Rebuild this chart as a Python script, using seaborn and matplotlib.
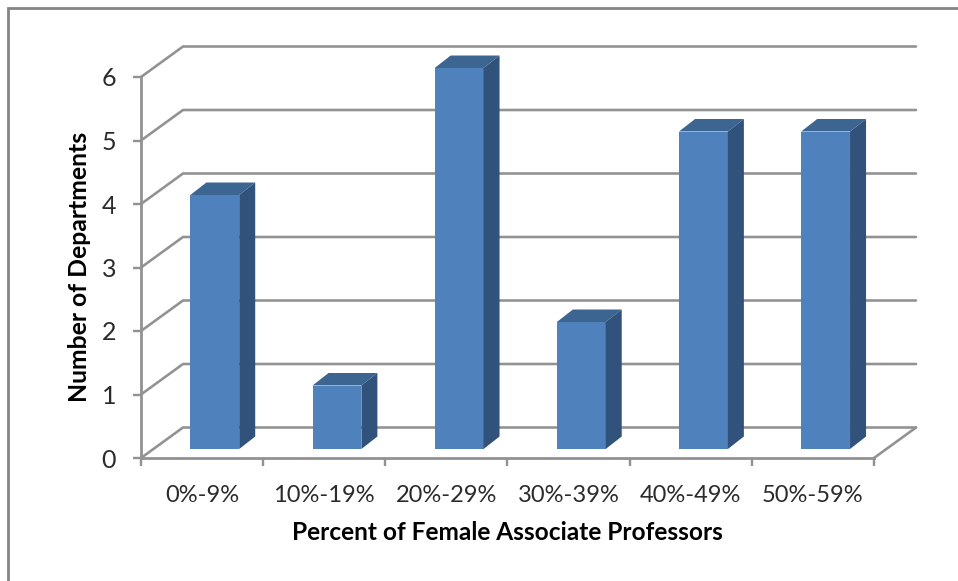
import matplotlib
matplotlib.use("Agg")
import matplotlib.pyplot as plt
import seaborn as sns
from matplotlib.lines import Line2D
from matplotlib.patches import Polygon

categories = ["0%-9%", "10%-19%", "20%-29%", "30%-39%", "40%-49%", "50%-59%"]
departments = [4, 1, 6, 2, 5, 5]
y_ticks = [0, 1, 2, 3, 4, 5, 6]
x_label = "Percent of Female Associate Professors"
y_label = "Number of Departments"

W, H, DPI = 958, 581, 100
sns.set_theme(style="white")
plt.rcParams["font.family"] = ["Lato", "DejaVu Sans"]

FRONT = "#4F81BD"
TOP = "#3D6592"
SIDE = "#30527B"
GRID = "#929292"
TEXT = "#2B2B2B"
PX = 72 / DPI

fig = plt.figure(figsize=(W / DPI, H / DPI), dpi=DPI, facecolor="white")
left, right, top, bottom = 141, 874, 77, 458
ax = fig.add_axes([left / W, 1 - bottom / H, (right - left) / W, (bottom - top) / H])

sns.barplot(x=categories, y=departments, color=FRONT, saturation=1, width=0.4, ax=ax, zorder=3)
ax.set_xlim(-0.5, 5.5)
ax.set_ylim(0, 6)
ax.patch.set_alpha(0)

unit_x = (right - left) / 6
unit_y = (bottom - top) / 6
back_x, back_y = 42 / unit_x, 30.5 / unit_y       # wall depth, data units
shift_x, shift_y = 12.7 / unit_x, 9 / unit_y      # bar placement inside the floor
deep_x, deep_y = 16 / unit_x, 12.5 / unit_y       # bar depth

for v in y_ticks:
    ax.plot([-0.5, -0.5 + back_x, 5.5 + back_x], [v, v + back_y, v + back_y],
            color=GRID, lw=2.6 * PX, clip_on=False, zorder=1, solid_joinstyle="miter")
ax.plot([5.5, 5.5 + back_x], [0, back_y], color=GRID, lw=2.6 * PX, clip_on=False, zorder=1)

for patch in ax.patches:
    patch.set_x(patch.get_x() + shift_x)
    patch.set_y(shift_y)
    patch.set_clip_on(False)
    patch.set_edgecolor("none")

for patch in list(ax.patches):
    x0, y0 = patch.get_x(), patch.get_y()
    x1, y1 = x0 + patch.get_width(), y0 + patch.get_height()
    ax.add_patch(Polygon([(x0, y1), (x1, y1), (x1 + deep_x, y1 + deep_y), (x0 + deep_x, y1 + deep_y)],
                         closed=True, fc=TOP, ec="none", clip_on=False, zorder=3))
    ax.add_patch(Polygon([(x1, y0), (x1 + deep_x, y0 + deep_y), (x1 + deep_x, y1 + deep_y), (x1, y1)],
                         closed=True, fc=SIDE, ec="none", clip_on=False, zorder=3))

sns.despine(ax=ax, top=True, right=True)
for s in ("left", "bottom"):
    ax.spines[s].set_color(GRID)
    ax.spines[s].set_linewidth(2.8 * PX)
    ax.spines[s].set_zorder(2)

ax.set_yticks(y_ticks)
ax.set_xticks([i - 0.5 for i in range(7)])
ax.set_xticklabels([])
ax.set_xticks(range(6), labels=categories, minor=True)
ax.tick_params(axis="x", which="major", length=8 * PX, width=2.4 * PX, color=GRID, bottom=True)
ax.tick_params(axis="x", which="minor", length=0, pad=20 * PX + 5, labelsize=17, labelcolor=TEXT, bottom=False)
ax.tick_params(axis="y", length=8 * PX, width=2.4 * PX, color=GRID, pad=17 * PX, labelsize=18,
               labelcolor=TEXT, left=True)

fig.text(507 / W, 1 - 533 / H, x_label, ha="center", va="center", fontsize=17.6, fontweight="bold", color="black")
fig.text(80 / W, 1 - 267 / H, y_label, ha="center", va="center", rotation=90, fontsize=17.8,
         fontweight="bold", color="black")

fig.add_artist(Line2D([8 / W, 8 / W, 1], [0, 1 - 8 / H, 1 - 8 / H], color="#858585", lw=2.8 * PX,
                      solid_joinstyle="miter"))

fig.savefig("out.png", dpi=DPI, facecolor="white")
